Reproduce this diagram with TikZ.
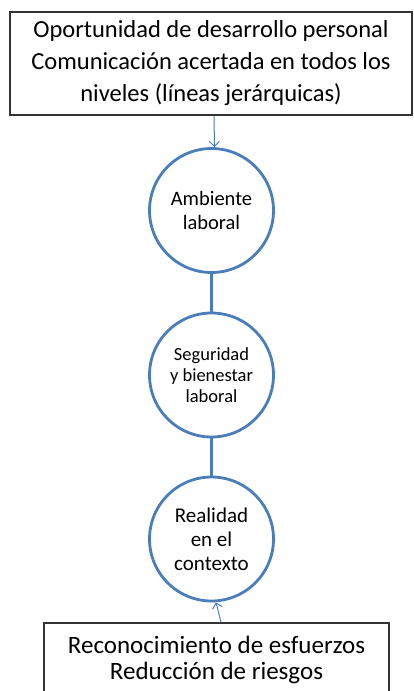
\documentclass[tikz,border=0pt]{standalone}
\usepackage{fontspec}
\usetikzlibrary{arrows.meta}
\setmainfont{Carlito}
\definecolor{ringblue}{HTML}{4A7EBB}
\definecolor{boxline}{HTML}{333333}
\begin{document}
\begin{tikzpicture}[x=1pt,y=-1pt,
  infobox/.style={draw=boxline,line width=1.4pt,align=center,inner sep=0pt},
  ring/.style={circle,draw=ringblue,line width=2.8pt,minimum size=124pt,
    inner sep=0pt,align=center},
  feed/.style={draw=ringblue,line width=1pt,-{Straight Barb[length=5pt,width=10pt]}},
  link/.style={draw=ringblue,line width=2.8pt}]
\useasboundingbox (0,0) rectangle (413,691);
\clip (0,0) rectangle (413,691);

\node[infobox,minimum width=402pt,minimum height=103pt,
  font=\fontsize{24.5}{32}\selectfont] (top) at (211,63.5)
  {Oportunidad de desarrollo personal\\Comunicación acertada en todos los\\niveles (líneas jerárquicas)};

\node[ring,font=\fontsize{20.5}{24}\selectfont] (c1) at (211.5,210.5) {Ambiente\\laboral};
\node[ring,font=\fontsize{18.5}{21}\selectfont] (c2) at (211.5,375) {Seguridad\\y bienestar\\laboral};
\node[ring,font=\fontsize{21}{24}\selectfont] (c3) at (211.5,539) {Realidad\\en el\\contexto};

\node[infobox,minimum width=345pt,minimum height=74pt,
  font=\fontsize{25}{26.5}\selectfont] (bot) at (216.5,660)
  {Reconocimiento de esfuerzos\\Reducción de riesgos};

\draw[feed] ([xshift=3pt]top.south) -- ([xshift=3pt]c1.north);
\draw[link] (c1.south) -- (c2.north);
\draw[link] (c2.south) -- (c3.north);
\draw[feed] ([xshift=4.5pt]bot.north) -- ([xshift=4.5pt]c3.south);
\end{tikzpicture}
\end{document}
